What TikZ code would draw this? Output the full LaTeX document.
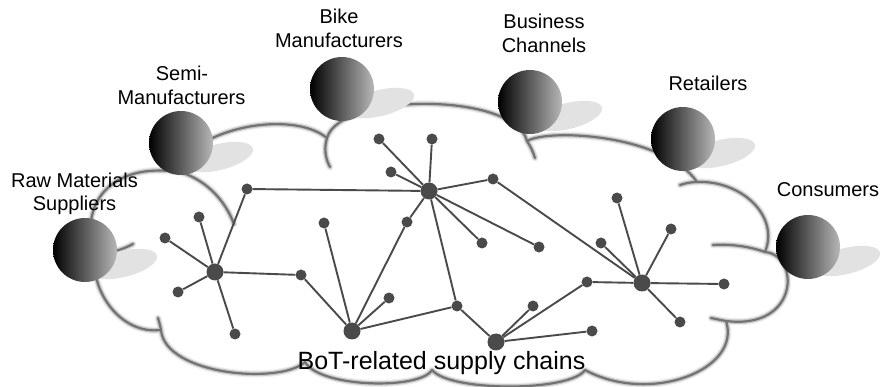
\documentclass[tikz,border=0pt]{standalone}
\usepackage{fontspec}
\setmainfont{Liberation Sans}
\definecolor{netc}{HTML}{4A4A4A}
\definecolor{shadowc}{HTML}{E2E2E2}
% outline of the cloud (lobes between cusps) plus the short inner arcs
\newcommand\cloudshape{%
 (95,255) .. controls (78,205) and (110,162) .. (178,172)
 .. controls (188,130) and (290,108) .. (327,138)
 .. controls (340,92) and (515,92) .. (527,141)
 .. controls (550,128) and (665,135) .. (697,182)
 .. controls (740,180) and (780,215) .. (765,252)
 .. controls (800,255) and (800,330) .. (726,321)
 .. controls (742,370) and (650,405) .. (585,370)
 .. controls (570,392) and (450,392) .. (432,370)
 .. controls (420,390) and (320,388) .. (305,362)
 .. controls (280,385) and (165,375) .. (161,330)
 .. controls (120,335) and (90,290) .. (95,255)
 (176,171) .. controls (205,178) and (225,200) .. (234,224)
 (327,138) .. controls (324,148) and (325,158) .. (330,167)
 (527,141) .. controls (531,147) and (533,152) .. (535,158)
 (697,182) .. controls (692,182) and (686,183) .. (680,185)
 (765,252) .. controls (748,246) and (730,244) .. (713,245)
 (726,321) .. controls (720,320) and (716,319) .. (711,318)
 (95,255) .. controls (110,253) and (122,250) .. (133,244)
 (161,330) .. controls (160,325) .. (158,318)}
\begin{document}
\begin{tikzpicture}[x=1pt,y=-1pt,
  link/.style={draw=netc, line width=1.9pt},
  hub/.style={circle, fill=netc, inner sep=0pt, minimum size=17pt},
  leaf/.style={circle, fill=netc, inner sep=0pt, minimum size=11pt},
  ball/.style={circle, inner sep=0pt, minimum size=64pt, left color=black, right color=black!28},
  lbl/.style={font=\fontsize{20}{24}\selectfont, inner sep=0pt, anchor=base},
  cloudline/.style={line cap=round, line join=round}]
\useasboundingbox (0,0) rectangle (881,387);

% cloud, drawn in layers to give a soft edge
\draw[cloudline, line width=7pt, draw=black!7] \cloudshape;
\draw[cloudline, line width=4.5pt, draw=black!22] \cloudshape;
\draw[cloudline, line width=2.2pt, draw=black!55] \cloudshape;

% network nodes
\node[hub] (H1) at (215,272) {};
\node[leaf] (a1) at (247,189) {};
\node[leaf] (a2) at (199,217) {};
\node[leaf] (a3) at (165,238) {};
\node[leaf] (a4) at (178,292) {};
\node[leaf] (a5) at (235,334) {};
\node[leaf] (a6) at (301,275) {};
\node[hub] (H2) at (429,191) {};
\node[leaf] (b1) at (379,139) {};
\node[leaf] (b2) at (432,139) {};
\node[leaf] (b3) at (391,172) {};
\node[leaf] (b4) at (493,179) {};
\node[leaf] (b5) at (482,243) {};
\node[leaf] (b6) at (539,247) {};
\node[leaf] (b7) at (407,222) {};
\node[hub] (H3) at (352,331) {};
\node[leaf] (c1) at (324,223) {};
\node[leaf] (c2) at (389,298) {};
\node[leaf] (m) at (457,306) {};
\node[hub] (H5) at (496,342) {};
\node[leaf] (d1) at (533,306) {};
\node[leaf] (d2) at (587,282) {};
\node[leaf] (d3) at (592,331) {};
\node[hub] (H4) at (642,283) {};
\node[leaf] (e1) at (617,198) {};
\node[leaf] (e2) at (671,229) {};
\node[leaf] (e3) at (601,243) {};
\node[leaf] (e4) at (724,284) {};
\node[leaf] (e5) at (680,322) {};

% network links
\foreach \t in {a1,a2,a3,a4,a5,a6} \draw[link] (H1) -- (\t);
\foreach \t in {b1,b2,b3,b4,b5,b6,b7,m,a1} \draw[link] (H2) -- (\t);
\foreach \t in {c1,c2,m,a6,b7} \draw[link] (H3) -- (\t);
\foreach \t in {d1,d2,d3,m} \draw[link] (H5) -- (\t);
\foreach \t in {e1,e2,e3,e4,e5,d2,b4} \draw[link] (H4) -- (\t);

% shadows of the spheres
\foreach \cx/\cy in {85/250,181/143,342/89,530/102,683/139,808/247}
  \fill[shadowc, rotate around={14:(\cx+38,\cy+14)}] (\cx+38,\cy+14) ellipse[x radius=35, y radius=13];

% spheres
\node[ball] (raw) at (85,250) {};
\node[ball] (semi) at (181,143) {};
\node[ball] (bike) at (342,89) {};
\node[ball] (biz) at (530,102) {};
\node[ball] (retail) at (683,139) {};
\node[ball] (cons) at (808,247) {};

% labels
\node[lbl] (rawA) at (74.5,188) {Raw Materials};
\node[lbl] (rawB) at (74.5,211) {Suppliers};
\node[lbl] (semiA) at (182,81) {Semi-};
\node[lbl] (semiB) at (181.5,105) {Manufacturers};
\node[lbl] (bikeA) at (339,24) {Bike};
\node[lbl] (bikeB) at (339,48) {Manufacturers};
\node[lbl] (bizA) at (544,29) {Business};
\node[lbl] (bizB) at (544,53) {Channels};
\node[lbl] (retailA) at (708,91) {Retailers};
\node[lbl] (consA) at (828,197) {Consumers};
\node[anchor=base, inner sep=0pt, font=\fontsize{25}{30}\selectfont] (title) at (441.5,370) {BoT-related supply chains};
\end{tikzpicture}
\end{document}
